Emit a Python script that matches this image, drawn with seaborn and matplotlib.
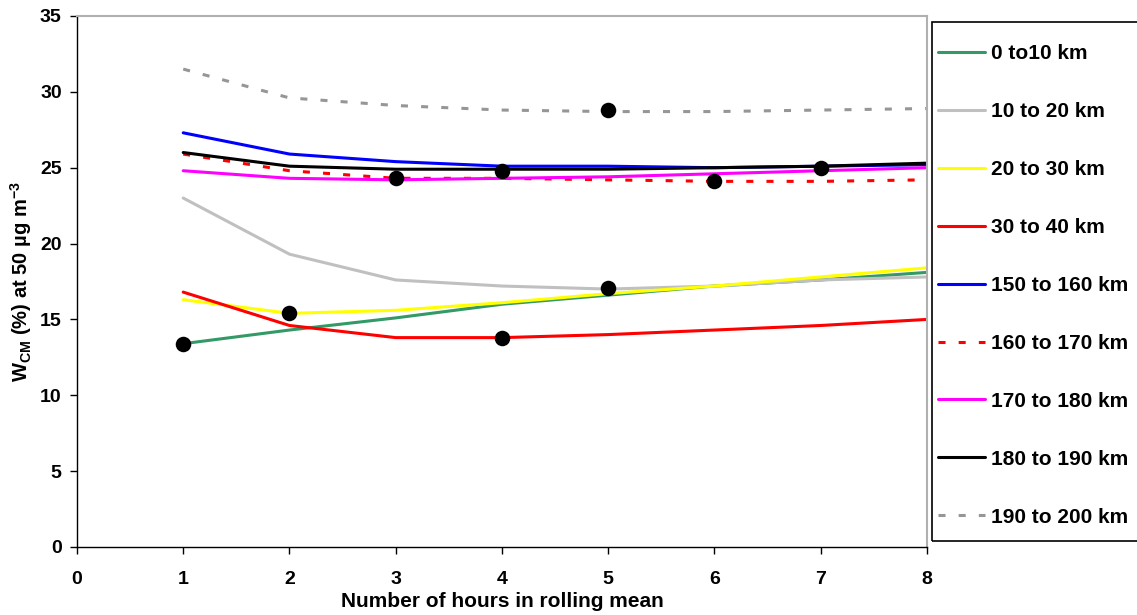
import numpy as np
import pandas as pd
import matplotlib
matplotlib.use("Agg")
import matplotlib.pyplot as plt
from matplotlib.patches import Rectangle
import seaborn as sns

hours = [1, 2, 3, 4, 5, 6, 7, 8]
labels = ["0 to10 km", "10 to 20 km", "20 to 30 km", "30 to 40 km",
          "150 to 160 km", "160 to 170 km", "170 to 180 km", "180 to 190 km",
          "190 to 200 km"]
s_0_10 = [13.4, 14.3, 15.1, 16.0, 16.6, 17.2, 17.6, 18.1]
s_10_20 = [23.0, 19.3, 17.6, 17.2, 17.0, 17.2, 17.6, 17.8]
s_20_30 = [16.3, 15.4, 15.6, 16.1, 16.7, 17.2, 17.8, 18.4]
s_30_40 = [16.8, 14.6, 13.8, 13.8, 14.0, 14.3, 14.6, 15.0]
s_150_160 = [27.3, 25.9, 25.4, 25.1, 25.1, 25.0, 25.1, 25.2]
s_160_170 = [25.9, 24.8, 24.3, 24.3, 24.2, 24.1, 24.1, 24.2]
s_170_180 = [24.8, 24.3, 24.2, 24.3, 24.4, 24.6, 24.8, 25.0]
s_180_190 = [26.0, 25.1, 24.9, 24.9, 24.9, 25.0, 25.1, 25.3]
s_190_200 = [31.5, 29.6, 29.1, 28.8, 28.7, 28.7, 28.8, 28.9]
series = [s_0_10, s_10_20, s_20_30, s_30_40, s_150_160, s_160_170,
          s_170_180, s_180_190, s_190_200]

dot_x = [1, 2, 3, 4, 4, 5, 5, 6, 7]
dot_y = [13.4, 15.4, 24.3, 13.8, 24.8, 28.8, 17.1, 24.1, 25.0]

colors = ["#339966", "#C0C0C0", "#FFFF00", "#FF0000", "#0000FF",
          "#FF0000", "#FF00FF", "#000000", "#969696"]
dash_styles = ["", "", "", "", "", (2.3, 4.3), "", "", (2.3, 4.3)]

rows = []
for lab, vals in zip(labels, series):
    for h, v in zip(hours, vals):
        rows.append({"hours": h, "value": v, "band": lab})
df = pd.DataFrame(rows)
dots = pd.DataFrame({"hours": dot_x, "value": dot_y})

sns.set_theme(style="white")
plt.rcParams["font.family"] = ["Liberation Sans", "DejaVu Sans"]
plt.rcParams["mathtext.default"] = "regular"
plt.rcParams["text.color"] = "black"
plt.rcParams["axes.labelcolor"] = "black"
plt.rcParams["xtick.color"] = "black"
plt.rcParams["ytick.color"] = "black"

fig = plt.figure(figsize=(11.37, 6.15), dpi=100)
ax = fig.add_axes([0.0677, 0.1106, 0.8153 - 0.0677, 0.974 - 0.1106])

sns.lineplot(data=df, x="hours", y="value", hue="band", style="band",
             hue_order=labels, style_order=labels,
             palette=dict(zip(labels, colors)),
             dashes=dict(zip(labels, dash_styles)),
             linewidth=2.2, ax=ax, legend=True)
sns.scatterplot(data=dots, x="hours", y="value", color="black", s=125,
                edgecolor="black", linewidth=0, zorder=5, ax=ax, legend=False)

ax.set_xlim(0, 8)
ax.set_ylim(0, 35)
ax.set_xticks(range(0, 9))
ax.set_yticks(range(0, 36, 5))
for sp in ["left", "bottom"]:
    ax.spines[sp].set_color("black")
    ax.spines[sp].set_linewidth(1.0)
for sp in ["top", "right"]:
    ax.spines[sp].set_color("#B0B0B0")
    ax.spines[sp].set_linewidth(1.5)
ax.tick_params(axis="both", direction="out", length=5, width=1, color="black",
               left=True, bottom=True)
ax.tick_params(axis="y", labelsize=14, pad=6)
ax.tick_params(axis="x", labelsize=14, pad=12)
for t in ax.get_yticklabels() + ax.get_xticklabels():
    t.set_fontweight("bold")

ax.set_xlabel("Number of hours in rolling mean", fontsize=15, fontweight="bold",
              labelpad=3)
ax.set_ylabel(r"W$_{CM}$ (%) at 50 µg m$^{-3}$", fontsize=14.5, fontweight="bold")
ax.yaxis.set_label_coords(-0.05, 0.5)

handles, lbls = ax.get_legend_handles_labels()
ax.get_legend().remove()
leg = fig.legend(handles, lbls, loc="upper left",
                 bbox_to_anchor=(938 / 1137, 1 - 44 / 615),
                 frameon=False, prop={"weight": "bold", "size": 15},
                 handlelength=2.25, labelspacing=1.87, borderpad=0,
                 handletextpad=0.3, borderaxespad=0)
for lh in leg.get_lines():
    lh.set_linewidth(2.2)

fig.patches.append(Rectangle((932 / 1137, 1 - 541 / 615), 220 / 1137,
                             (541 - 22) / 615, transform=fig.transFigure,
                             fill=False, edgecolor="black", linewidth=1.2))

fig.savefig("out.png", dpi=100, facecolor="white")
